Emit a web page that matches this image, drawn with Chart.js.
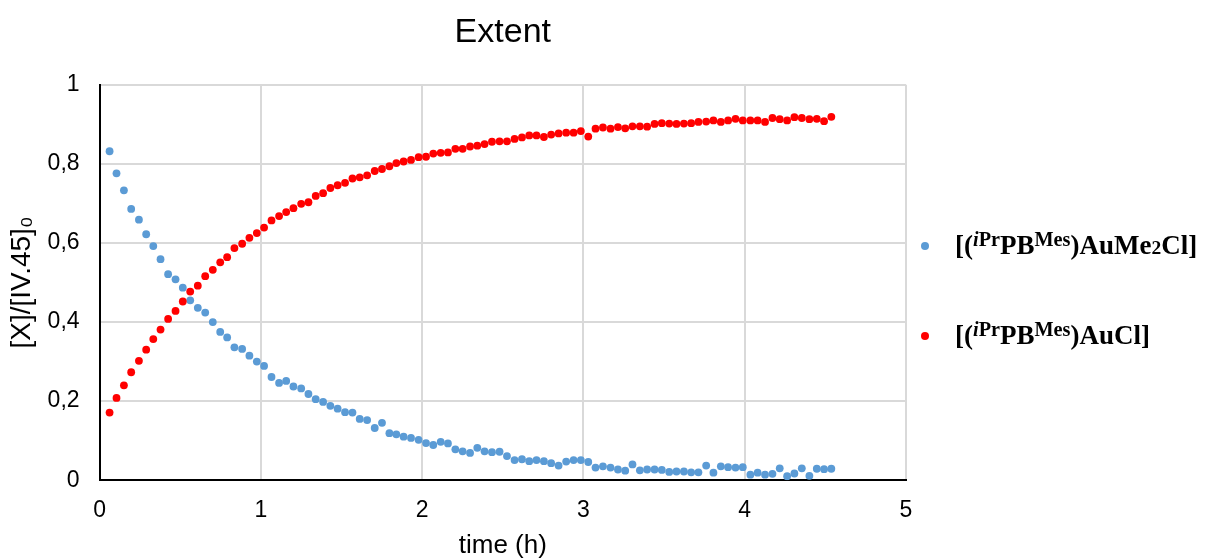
<!DOCTYPE html>
<html>
<head>
<meta charset="utf-8">
<title>Extent</title>
<script src="https://cdn.jsdelivr.net/npm/chart.js@4.4.1/dist/chart.umd.min.js"></script>
<style>
    body { margin: 0; background: #fff; }
    #wrap { position: relative; width: 1209px; height: 559px; }
    .legend-item {
        position: absolute;
        left: 955px;
        font: bold 27px "Liberation Serif", "Times New Roman", serif;
        line-height: 26px;
        color: #000;
        white-space: nowrap;
    }
    .legend-item .dot {
        position: absolute;
        left: -34px;
        top: 10px;
        width: 8px;
        height: 8px;
        border-radius: 50%;
    }
    .legend-item sup { font-size: 0.75em; line-height: 0; vertical-align: 0.42em; }
    .legend-item .small { font-size: 0.72em; }
</style>
</head>
<body>
<div id="wrap">
    <canvas id="chart"></canvas>
    <div id="legend"></div>
</div>
<script>
// time in hours
const times = [
    0.062, 0.105, 0.151, 0.196, 0.244, 0.289, 0.333, 0.378, 0.425, 0.471,
    0.516, 0.562, 0.609, 0.655, 0.702, 0.748, 0.791, 0.836, 0.884, 0.929,
    0.975, 1.020, 1.066, 1.113, 1.157, 1.202, 1.250, 1.295, 1.340, 1.386,
    1.431, 1.476, 1.522, 1.568, 1.613, 1.659, 1.706, 1.751, 1.797, 1.840,
    1.885, 1.931, 1.978, 2.024, 2.069, 2.115, 2.160, 2.206, 2.251, 2.297,
    2.342, 2.387, 2.433, 2.480, 2.526, 2.573, 2.619, 2.664, 2.709, 2.755,
    2.800, 2.846, 2.893, 2.939, 2.984, 3.030, 3.075, 3.121, 3.168, 3.214,
    3.259, 3.304, 3.350, 3.395, 3.441, 3.486, 3.532, 3.577, 3.623, 3.668,
    3.713, 3.761, 3.806, 3.852, 3.897, 3.943, 3.988, 4.035, 4.080, 4.126,
    4.172, 4.217, 4.263, 4.308, 4.354, 4.401, 4.447, 4.492, 4.537
];

// [(iPrPBMes)AuMe2Cl]
const startingComplex = [
    0.832, 0.776, 0.733, 0.686, 0.659, 0.622, 0.592, 0.559, 0.521, 0.508,
    0.487, 0.455, 0.436, 0.424, 0.400, 0.375, 0.361, 0.336, 0.332, 0.315,
    0.300, 0.289, 0.261, 0.246, 0.251, 0.237, 0.232, 0.218, 0.205, 0.198,
    0.188, 0.181, 0.172, 0.171, 0.155, 0.152, 0.132, 0.145, 0.119, 0.116,
    0.110, 0.107, 0.102, 0.094, 0.089, 0.097, 0.093, 0.078, 0.073, 0.069,
    0.082, 0.073, 0.071, 0.072, 0.061, 0.051, 0.053, 0.048, 0.051, 0.048,
    0.043, 0.037, 0.047, 0.051, 0.051, 0.046, 0.032, 0.035, 0.032, 0.027,
    0.024, 0.040, 0.025, 0.027, 0.027, 0.026, 0.021, 0.022, 0.022, 0.020,
    0.020, 0.037, 0.019, 0.035, 0.033, 0.032, 0.033, 0.014, 0.019, 0.014,
    0.016, 0.030, 0.010, 0.017, 0.030, 0.011, 0.029, 0.028, 0.029
];

// [(iPrPBMes)AuCl]
const productComplex = [
    0.171, 0.208, 0.240, 0.273, 0.302, 0.330, 0.357, 0.381, 0.408, 0.428,
    0.452, 0.477, 0.492, 0.516, 0.532, 0.551, 0.564, 0.587, 0.598, 0.613,
    0.625, 0.639, 0.657, 0.668, 0.678, 0.688, 0.699, 0.703, 0.719, 0.726,
    0.739, 0.746, 0.752, 0.763, 0.766, 0.771, 0.782, 0.787, 0.794, 0.802,
    0.806, 0.810, 0.817, 0.818, 0.826, 0.828, 0.829, 0.838, 0.838, 0.844,
    0.846, 0.850, 0.856, 0.857, 0.857, 0.863, 0.867, 0.872, 0.872, 0.868,
    0.874, 0.877, 0.879, 0.879, 0.883, 0.869, 0.889, 0.892, 0.889, 0.893,
    0.890, 0.895, 0.895, 0.894, 0.901, 0.903, 0.902, 0.901, 0.902, 0.903,
    0.906, 0.907, 0.910, 0.906, 0.910, 0.914, 0.910, 0.910, 0.910, 0.906,
    0.916, 0.913, 0.910, 0.918, 0.916, 0.913, 0.914, 0.908, 0.919
];

const xTickLabels = ['0', '1', '2', '3', '4', '5'];
const yTickLabels = ['0', '0,2', '0,4', '0,6', '0,8', '1'];

const seriesNames = [
    '[(<sup><i>i</i>Pr</sup>PB<sup>Mes</sup>)AuMe<span class="small">2</span>Cl]',
    '[(<sup><i>i</i>Pr</sup>PB<sup>Mes</sup>)AuCl]'
];
const seriesColors = ['#5B9BD5', '#FF0000'];

function toPoints(values) {
    return times.map((t, i) => ({ x: t, y: values[i] }));
}

function buildLegend() {
    const legend = document.getElementById('legend');
    const tops = [232, 322];
    seriesNames.forEach((name, i) => {
        const item = document.createElement('div');
        item.className = 'legend-item';
        item.style.top = tops[i] + 'px';
        item.innerHTML = '<span class="dot" style="background:' + seriesColors[i] + '"></span>' + name;
        legend.appendChild(item);
    });
}

function displayChart() {
    const ctx = document.getElementById('chart').getContext('2d');
    const sans = "'Liberation Sans', Arial, sans-serif";

    new Chart(ctx, {
        type: 'scatter',
        data: {
            datasets: [{
                label: 'AuMe2Cl',
                data: toPoints(startingComplex),
                backgroundColor: seriesColors[0],
                borderColor: seriesColors[0],
                pointRadius: 3.9,
                pointBorderWidth: 0,
                order: 1
            }, {
                label: 'AuCl',
                data: toPoints(productComplex),
                backgroundColor: seriesColors[1],
                borderColor: seriesColors[1],
                pointRadius: 3.9,
                pointBorderWidth: 0,
                order: 0
            }]
        },
        options: {
            responsive: true,
            maintainAspectRatio: false,
            animation: false,
            layout: {
                padding: { left: 0, right: 303, top: 0, bottom: 0 }
            },
            plugins: {
                legend: { display: false },
                tooltip: { enabled: false },
                title: {
                    display: true,
                    text: 'Extent',
                    fullSize: false,
                    color: '#000',
                    font: { family: sans, size: 34, weight: 'normal' },
                    padding: { top: 12, bottom: 32 }
                }
            },
            scales: {
                x: {
                    type: 'linear',
                    min: 0,
                    max: 5,
                    ticks: {
                        stepSize: 1,
                        color: '#000',
                        padding: 17,
                        font: { family: sans, size: 23 },
                        callback: (value, index) => xTickLabels[index]
                    },
                    grid: { color: '#d9d9d9', lineWidth: 2, drawTicks: false },
                    border: { color: '#000', width: 2 },
                    title: {
                        display: true,
                        text: 'time (h)',
                        color: '#000',
                        font: { family: sans, size: 26 },
                        padding: { top: -12, bottom: -2 }
                    }
                },
                y: {
                    min: 0,
                    max: 1,
                    ticks: {
                        stepSize: 0.2,
                        color: '#000',
                        padding: 20,
                        font: { family: sans, size: 23 },
                        callback: (value, index) => yTickLabels[index]
                    },
                    grid: { color: '#d9d9d9', lineWidth: 2, drawTicks: false },
                    border: { color: '#000', width: 2 },
                    title: {
                        display: true,
                        text: '[X]/[IV.45]₀',
                        color: '#000',
                        font: { family: sans, size: 28 },
                        padding: { top: 5, bottom: -11 }
                    }
                }
            }
        }
    });
}

buildLegend();
displayChart();
</script>
</body>
</html>
